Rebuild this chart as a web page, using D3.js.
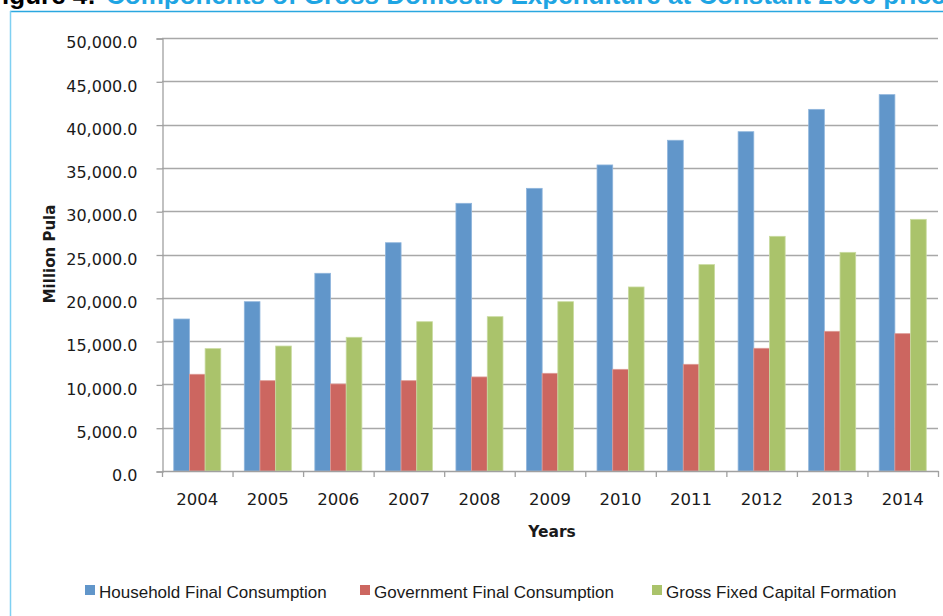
<!DOCTYPE html>
<html>
<head>
<meta charset="utf-8">
<script src="https://cdn.jsdelivr.net/npm/d3@7"></script>
<style>
  html, body { margin: 0; padding: 0; background: #ffffff; overflow: hidden; }
  svg { display: block; }
</style>
</head>
<body>
<svg id="chart" width="943" height="616"></svg>
<script>
// ---- data ----
const years = ["2004", "2005", "2006", "2007", "2008", "2009", "2010", "2011", "2012", "2013", "2014"];
const household = [17550, 19550, 22830, 26360, 30910, 32640, 35340, 38190, 39180, 41760, 43460];
const government = [11170, 10430, 10050, 10430, 10860, 11280, 11740, 12320, 14170, 16130, 15860];
const capital = [14130, 14430, 15440, 17240, 17820, 19550, 21250, 23830, 27100, 25250, 29060];
const seriesNames = ["Household Final Consumption", "Government Final Consumption", "Gross Fixed Capital Formation"];
const seriesColors = ["#6196ca", "#cc6660", "#aac36b"];
const seriesStroke = ["#8fb5dc", "#dd9a95", "#c9dba0"];
const yTicks = [0, 5000, 10000, 15000, 20000, 25000, 30000, 35000, 40000, 45000, 50000];
const titlePrefix = "Figure 4:";
const titleText = "Components of Gross Domestic Expenditure at Constant 2006 prices";
const yTitle = "Million Pula";
const xTitle = "Years";

const svg = d3.select("#chart");

// frame border
svg.append("line").attr("x1", 10).attr("x2", 943).attr("y1", 11.5).attr("y2", 11.5)
  .attr("stroke", "#2aa7e0").attr("stroke-width", 1.5);
svg.append("line").attr("x1", 10.5).attr("x2", 10.5).attr("y1", 11).attr("y2", 616)
  .attr("stroke", "#7fd0f2").attr("stroke-width", 1.5);

// title (the reference shows only its lower part, clipped by the top edge)
svg.append("text").attr("x", 96).attr("y", 4).attr("text-anchor", "end")
  .attr("font-family", "Liberation Sans, Arial, sans-serif").attr("font-weight", "bold")
  .attr("font-size", 26).attr("fill", "#000").text(titlePrefix);
svg.append("text").attr("x", 106).attr("y", 4)
  .attr("font-family", "Liberation Sans, Arial, sans-serif").attr("font-weight", "bold")
  .attr("font-size", 26).attr("fill", "#1fa5e3").text(titleText);

// scales
const x = d3.scaleBand().domain(years).range([162, 938]).paddingInner(0).paddingOuter(0);
const bw = x.bandwidth();
const xInner = d3.scaleBand().domain([0, 1, 2]).range([bw / 6, bw * 5 / 6]).padding(0);
const y = d3.scaleLinear().domain([0, 50000]).range([471, 38]);

// gridlines
svg.append("g").selectAll("line").data(yTicks.filter(d => d > 0)).join("line")
  .attr("x1", 162).attr("x2", 938)
  .attr("y1", d => Math.round(y(d)) + 0.5).attr("y2", d => Math.round(y(d)) + 0.5)
  .attr("stroke", "#a8a8a8").attr("stroke-width", 1.3);

// bars
const seriesData = [household, government, capital];
const groups = svg.append("g").selectAll("g").data(seriesData).join("g")
  .attr("fill", (d, i) => seriesColors[i])
  .attr("stroke", (d, i) => seriesStroke[i])
  .attr("stroke-width", 0.8);
groups.each(function (vals, si) {
  d3.select(this).selectAll("rect").data(vals).join("rect")
    .attr("x", (d, i) => x(years[i]) + xInner(si))
    .attr("width", xInner.bandwidth())
    .attr("y", d => y(d))
    .attr("height", d => y(0) - y(d));
});

// y axis
const yAxis = d3.axisLeft(y).tickValues(yTicks).tickSize(6).tickPadding(19)
  .tickFormat(d => d3.format(",.1f")(d));
const gy = svg.append("g").attr("transform", "translate(162.5,0.5)").call(yAxis);
gy.select(".domain").attr("stroke", "#a0a0a0").attr("stroke-width", 1.3);
gy.selectAll(".tick line").attr("stroke", "#a0a0a0").attr("stroke-width", 1.3);
gy.selectAll(".tick text").attr("font-family", "DejaVu Sans, sans-serif").attr("font-size", 16)
  .attr("fill", "#1a1a1a").attr("dy", "0.95em").attr("y", -6);

// x axis
const xAxis = d3.axisBottom(x).tickSize(0).tickPadding(22);
const gx = svg.append("g").attr("transform", "translate(0,471)").call(xAxis);
gx.select(".domain").attr("stroke", "#a0a0a0").attr("stroke-width", 1.3);
gx.selectAll(".tick text").attr("font-family", "DejaVu Sans, sans-serif").attr("font-size", 16.5)
  .attr("fill", "#1a1a1a");
// x tick marks at category boundaries
const boundaries = years.map(d => x(d)).concat([x(years[years.length - 1]) + bw]);
svg.append("g").selectAll("line").data(boundaries).join("line")
  .attr("x1", d => d + 0.5).attr("x2", d => d + 0.5).attr("y1", 471).attr("y2", 477)
  .attr("stroke", "#a0a0a0").attr("stroke-width", 1.3);

// axis titles
svg.append("text").attr("x", 552).attr("y", 537).attr("text-anchor", "middle")
  .attr("font-family", "DejaVu Sans, sans-serif").attr("font-weight", "bold").attr("font-size", 15.5)
  .attr("fill", "#1a1a1a").text(xTitle);
svg.append("text").attr("transform", "translate(55,254) rotate(-90)").attr("text-anchor", "middle")
  .attr("font-family", "DejaVu Sans, sans-serif").attr("font-weight", "bold").attr("font-size", 15)
  .attr("fill", "#1a1a1a").text(yTitle);

// legend
const legendX = [85, 360, 652];
const leg = svg.append("g").selectAll("g").data(seriesNames).join("g")
  .attr("transform", (d, i) => `translate(${legendX[i]},0)`);
leg.append("rect").attr("x", 0).attr("y", 585).attr("width", 10).attr("height", 10)
  .attr("fill", (d, i) => seriesColors[i]);
leg.append("text").attr("x", 14).attr("y", 597.5)
  .attr("font-family", "Liberation Sans, Arial, sans-serif").attr("font-size", 17)
  .attr("fill", "#1a1a1a").text(d => d);
</script>
</body>
</html>
